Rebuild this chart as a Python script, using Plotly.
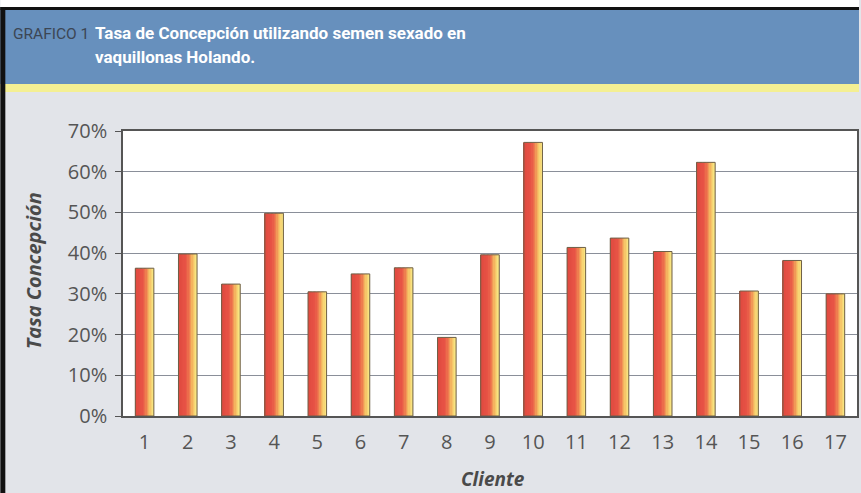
import plotly.graph_objects as go

clientes = [str(i) for i in range(1, 18)]
tasa = [36.3, 39.8, 32.4, 49.8, 30.5, 34.9, 36.4, 19.3, 39.6, 67.2,
        41.4, 43.7, 40.4, 62.3, 30.7, 38.2, 30.0]
y_ticks = [0, 10, 20, 30, 40, 50, 60, 70]
y_ticklabels = [f"{v}%" for v in y_ticks]

W, H = 861, 493
L, R, T, B = 123, 2, 131, 77
pw, ph = W - L - R, H - T - B

def px(x):
    return (x - L) / pw

def py(y):
    return (H - B - y) / ph

fig = go.Figure()

# gradient bars via narrow strips
bar_w = 0.43
n = 14
stops = [(0.0, (222, 72, 62)), (0.42, (232, 84, 70)), (0.6, (238, 122, 78)),
         (0.78, (245, 190, 98)), (1.0, (249, 234, 134))]

def col(t):
    for (t0, c0), (t1, c1) in zip(stops[:-1], stops[1:]):
        if t0 <= t <= t1:
            f = (t - t0) / (t1 - t0) if t1 > t0 else 0
            return "rgb(%d,%d,%d)" % tuple(round(a + (b - a) * f) for a, b in zip(c0, c1))
    return "rgb(%d,%d,%d)" % stops[-1][1]

for k in range(n):
    t = (k + 0.5) / n
    fig.add_trace(go.Bar(
        x=clientes, y=tasa,
        width=bar_w / n * 1.05,
        offset=-bar_w / 2 + k * bar_w / n,
        marker=dict(color=col(t), line=dict(width=0)),
        hoverinfo="skip", showlegend=False,
    ))

fig.add_trace(go.Bar(
    x=clientes, y=tasa, width=bar_w, offset=-bar_w / 2,
    marker=dict(color="rgba(0,0,0,0)", line=dict(color="#6e6048", width=1)),
    showlegend=False,
))

shapes = [
    dict(type="rect", xref="paper", yref="paper", x0=px(0), x1=px(W), y0=py(84), y1=py(9),
         fillcolor="#6790bd", line=dict(width=0), layer="below"),
    dict(type="rect", xref="paper", yref="paper", x0=px(0), x1=px(W), y0=py(10), y1=py(7),
         fillcolor="#111111", line=dict(width=0), layer="below"),
    dict(type="rect", xref="paper", yref="paper", x0=px(0), x1=px(W), y0=py(92), y1=py(84),
         fillcolor="#f4ef93", line=dict(width=0), layer="below"),
    dict(type="rect", xref="paper", yref="paper", x0=px(0), x1=px(W), y0=py(7), y1=py(0),
         fillcolor="#ffffff", line=dict(width=0), layer="below"),
    dict(type="rect", xref="paper", yref="paper", x0=px(0), x1=px(5), y0=py(H), y1=py(7),
         fillcolor="#111111", line=dict(width=0), layer="above"),
]

title_font = "Roboto, sans-serif"
annotations = [
    dict(text="GRAFICO 1", xref="paper", yref="paper", x=px(11), y=py(34),
         xanchor="left", yanchor="middle", showarrow=False,
         font=dict(family=title_font, size=15.5, color="#3c4654")),
    dict(text="<b>Tasa de Concepción utilizando semen sexado en</b>", xref="paper", yref="paper",
         x=px(93), y=py(33), xanchor="left", yanchor="middle", showarrow=False,
         font=dict(family=title_font, size=17, color="#ffffff")),
    dict(text="<b>vaquillonas Holando.</b>", xref="paper", yref="paper",
         x=px(93), y=py(57), xanchor="left", yanchor="middle", showarrow=False,
         font=dict(family=title_font, size=17, color="#ffffff")),
    dict(text="<b><i>Tasa Concepción</i></b>", xref="paper", yref="paper",
         x=px(33), y=py(271), xanchor="center", yanchor="middle", textangle=-90,
         showarrow=False, font=dict(family="Open Sans, sans-serif", size=20, color="#4a4a4a")),
    dict(text="<b><i>Cliente</i></b>", xref="paper", yref="paper",
         x=px(494), y=py(479), xanchor="center", yanchor="middle",
         showarrow=False, font=dict(family="Open Sans, sans-serif", size=19, color="#4a4a4a")),
]

fig.update_layout(
    width=W, height=H,
    margin=dict(l=L, r=R, t=T, b=B, pad=0),
    paper_bgcolor="#e2e4e9",
    plot_bgcolor="#ffffff",
    barmode="overlay",
    shapes=shapes,
    annotations=annotations,
    showlegend=False,
    font=dict(family="Open Sans, sans-serif", color="#555555"),
)

fig.update_xaxes(
    type="category", range=[-0.5, 16.5],
    showline=True, linecolor="#555555", linewidth=1.5, mirror=True,
    ticks="", tickfont=dict(size=20, color="#555555"),
    ticklabelstandoff=7, showgrid=False,
)
fig.update_yaxes(
    range=[0, 70], tickvals=y_ticks, ticktext=y_ticklabels,
    showline=True, linecolor="#555555", linewidth=1.5, mirror=True,
    ticks="outside", ticklen=6, tickcolor="#555555",
    tickfont=dict(size=20, color="#555555"), ticklabelstandoff=4,
    showgrid=True, gridcolor="#8a8f99", gridwidth=1, zeroline=False,
)

fig.write_html("out.html", config={"displayModeBar": False},
               post_script="document.body.style.margin='0';document.body.style.overflow='hidden';")
